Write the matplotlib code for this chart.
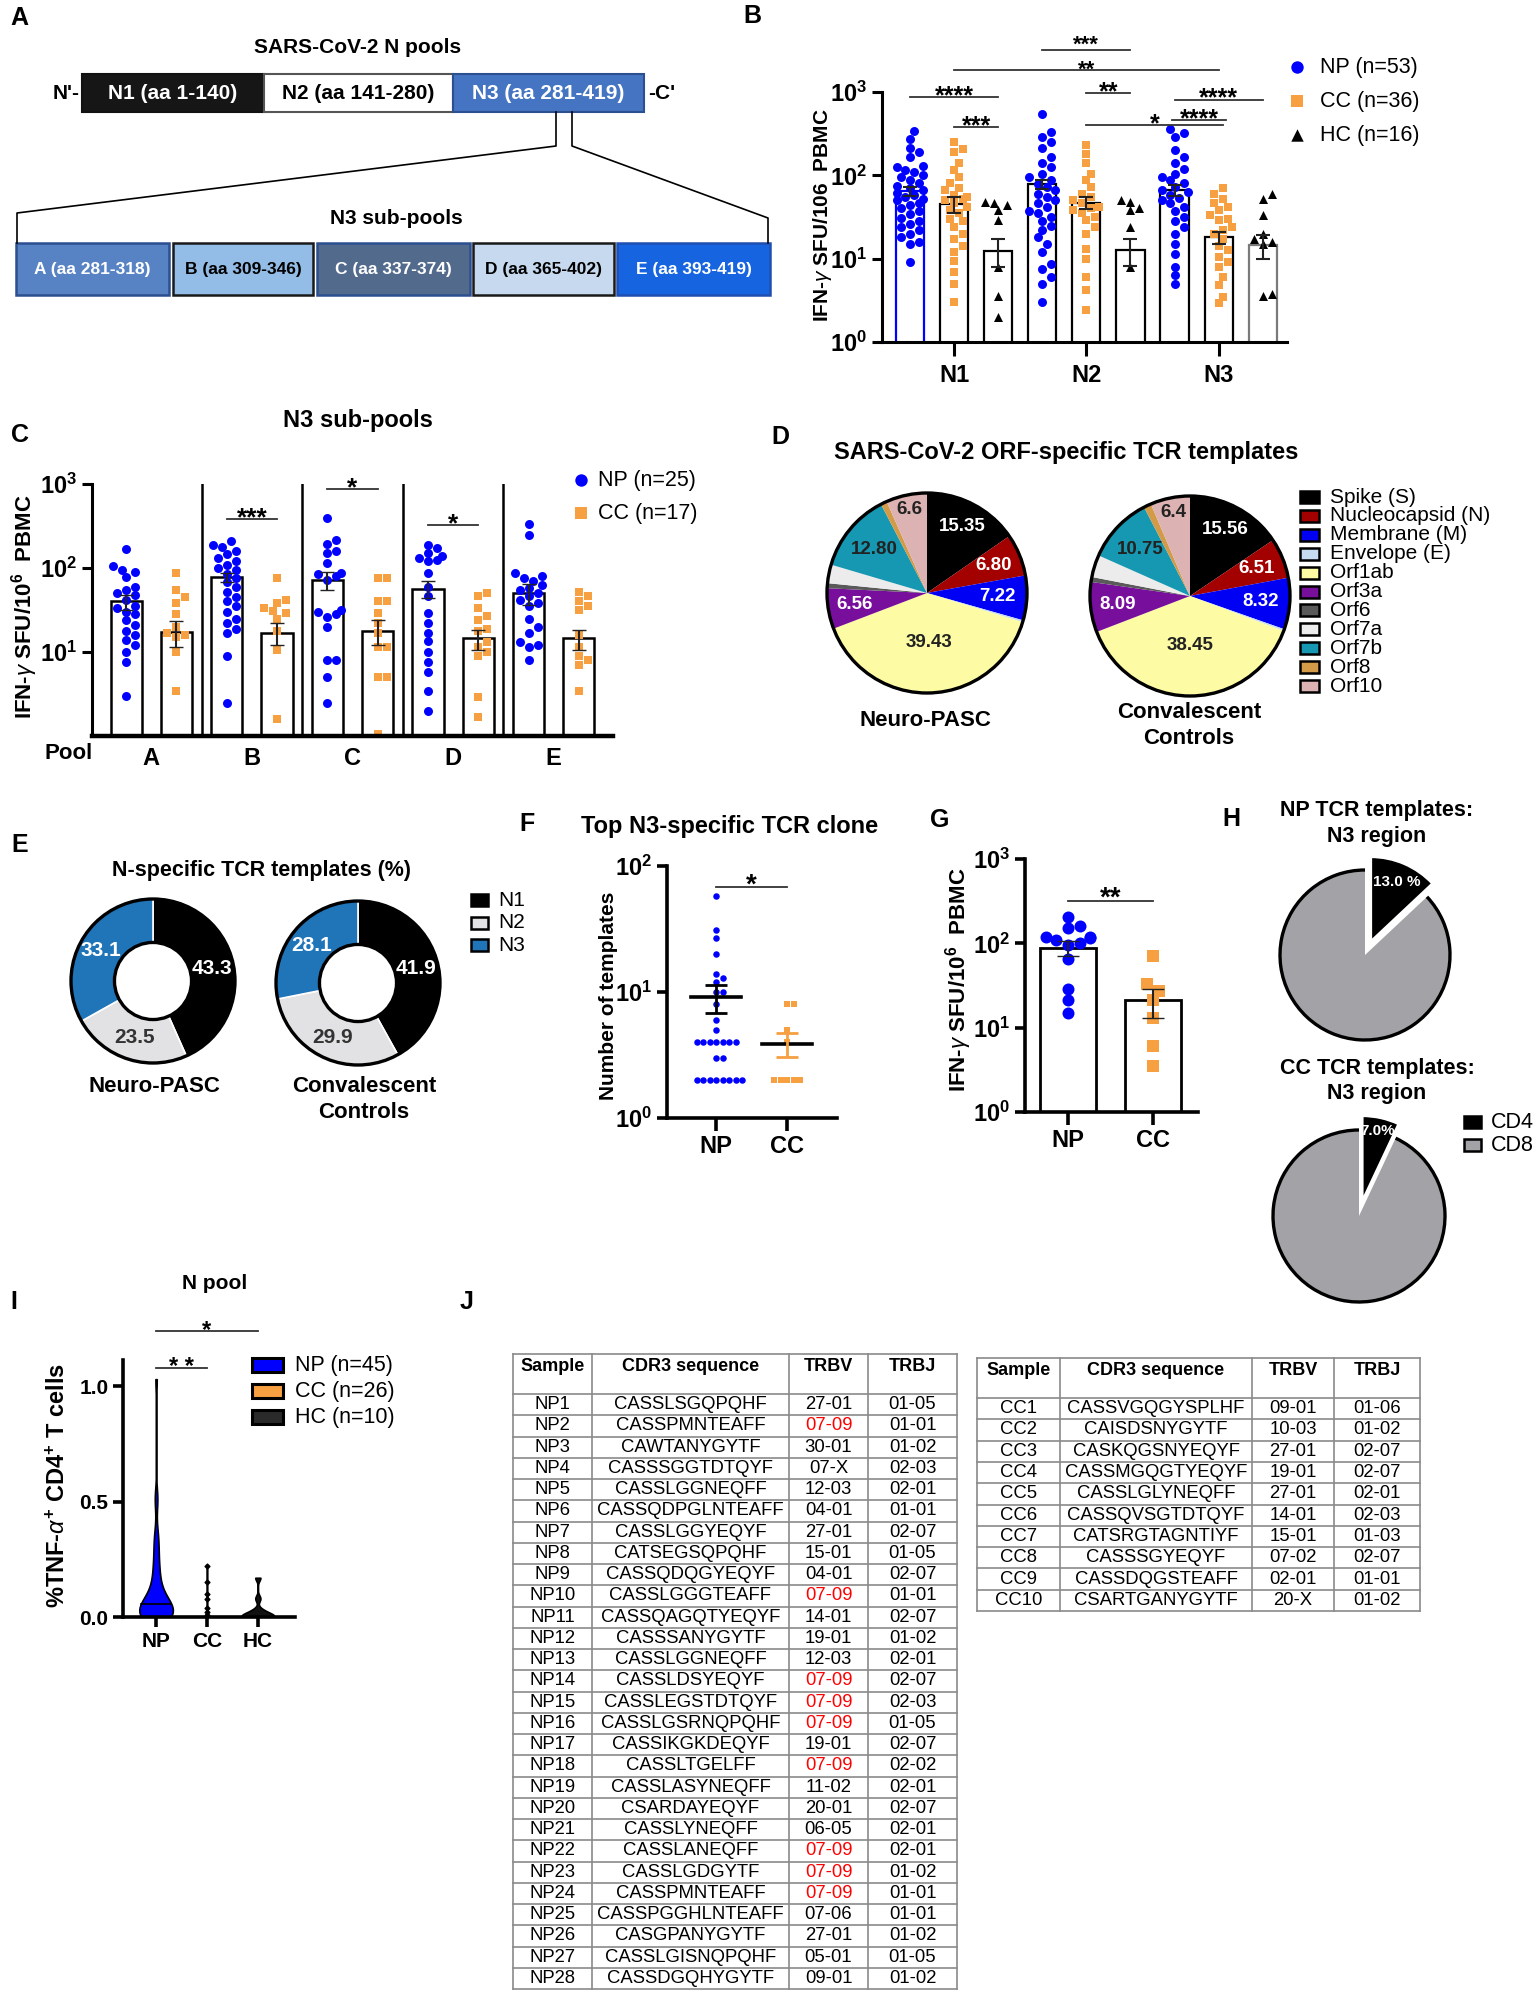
import numpy as np
import matplotlib
matplotlib.use('Agg')
import matplotlib.pyplot as plt
from matplotlib.patches import Rectangle, Circle, Arc
from matplotlib.ticker import NullLocator

W, H = 1536, 1992
NARROW = ['Liberation Sans', 'DejaVu Sans']
SANS = ['Liberation Sans', 'DejaVu Sans']
plt.rcParams['font.family'] = SANS
plt.rcParams['mathtext.fontset'] = 'custom'
plt.rcParams['mathtext.rm'] = 'Liberation Sans:bold'
plt.rcParams['mathtext.bf'] = 'Liberation Sans:bold'
plt.rcParams['mathtext.it'] = 'Liberation Sans:italic'

BLUE = '#0000ff'
ORANGE = '#f7a041'

# ---- A: N pools diagram
pool_names = ['N1 (aa 1-140)', 'N2 (aa 141-280)', 'N3 (aa 281-419)']
pool_colors = ['#161616', '#ffffff', '#4575c2']
sub_names = ['A (aa 281-318)', 'B (aa 309-346)', 'C (aa 337-374)', 'D (aa 365-402)', 'E (aa 393-419)']
sub_colors = ['#5783c4', '#93bde6', '#526a8c', '#c6d9ee', '#1764e0']

# ---- B: IFN-g SFU per N pool (NP, CC, HC for N1, N2, N3)
b_groups = ['N1', 'N2', 'N3']
b_np = [
    [340, 275, 210, 190, 165, 130, 125, 115, 110, 100, 95, 88, 82, 75, 70, 66, 62, 58, 55, 52,
     50, 47, 44, 40, 37, 34, 31, 28, 26, 24, 22, 20, 18, 16, 15, 9],
    [550, 330, 290, 250, 210, 165, 140, 125, 105, 95, 87, 79, 72, 66, 60, 55, 50, 46, 42, 37,
     35, 32, 28, 25, 22, 18, 15, 12, 8.7, 7.6, 6, 5, 3],
    [360, 320, 290, 200, 165, 140, 120, 105, 95, 87, 80, 72, 66, 63, 58, 54, 50, 46, 42, 37,
     32, 28, 24, 20, 15, 11.5, 8, 6.3, 5],
]
b_cc = [
    [250, 205, 190, 140, 115, 95, 80, 70, 66, 58, 55, 52, 50, 46, 42, 38, 35, 30, 28, 24,
     20, 17, 14, 12, 9.5, 7, 5, 3],
    [230, 180, 140, 105, 87, 72, 60, 55, 50, 46, 42, 40, 38, 35, 32, 29, 24, 20, 13, 10, 6, 4.2, 2.4],
    [70, 60, 52, 46, 42, 38, 33, 30, 29, 24, 22, 20, 17, 14, 12.6, 10.5, 9, 8, 6, 4.8, 3.5, 2.9],
]
b_hc = [
    [48, 44, 47, 38, 29, 8, 3.6, 2],
    [50, 48, 40, 38, 24, 8],
    [60, 52, 33, 20, 17, 16, 15, 3.8, 3.6],
]
b_means = [65, 45, 12.5, 78, 47, 12.6, 67, 18, 14.5]
b_sem = [8, 10, 4.5, 10, 8, 4.5, 10, 3, 4.5]
b_legend = ['NP (n=53)', 'CC (n=36)', 'HC (n=16)']

# ---- C: N3 sub-pools (NP, CC)
c_pools = ['A', 'B', 'C', 'D', 'E']
c_np = [
    [170, 105, 95, 90, 78, 60, 55, 50, 48, 42, 35, 33, 30, 28, 24, 21, 18, 16, 14, 12, 10, 7.5, 3],
    [210, 190, 180, 160, 145, 130, 120, 110, 100, 95, 85, 75, 68, 60, 52, 45, 40, 35, 30, 25,
     22, 19, 17, 9, 2.5],
    [390, 215, 195, 160, 150, 115, 87, 85, 80, 72, 32, 30, 28, 26, 20, 8, 8, 5, 2.5],
    [190, 175, 150, 140, 130, 125, 120, 87, 60, 46, 29, 22, 17, 13.5, 10, 7.5, 5.8, 3.4, 2],
    [330, 250, 87, 80, 75, 70, 62, 58, 55, 50, 46, 42, 38, 35, 25, 20, 17, 13, 12, 11.5, 8],
]
c_cc = [
    [87, 55, 45, 38, 28, 20, 17, 16, 15, 10, 3.4],
    [76, 42, 38, 33, 31, 29, 25, 18, 10.5, 1.6],
    [76, 76, 40, 40, 29, 22, 17, 11.5, 11.5, 5, 5, 1.05],
    [50, 46, 33, 27, 24, 19, 18, 13, 11.5, 10, 9, 2.9, 1.7],
    [52, 46, 40, 35, 32, 16, 11.5, 9, 8, 7, 3.4],
]
c_np_mean = [40, 78, 72, 57, 50]
c_np_sem = [8, 10, 18, 13, 14]
c_cc_mean = [17.5, 17, 18, 14.5, 14.5]
c_cc_sem = [6, 5, 6, 4, 4]
c_legend = ['NP (n=25)', 'CC (n=17)']

# ---- D: ORF-specific TCR templates (%)
orf_names = ['Spike (S)', 'Nucleocapsid (N)', 'Membrane (M)', 'Envelope (E)', 'Orf1ab', 'Orf3a',
             'Orf6', 'Orf7a', 'Orf7b', 'Orf8', 'Orf10']
orf_colors = ['#000000', '#a30000', '#0000f5', '#c6dcf2', '#fdfca4', '#780e9c', '#5a5a5a',
              '#ececec', '#1698b2', '#d39a48', '#dcb2b2']
orf_np = [15.35, 6.80, 7.22, 0.3, 39.43, 6.56, 0.8, 3.0, 12.80, 1.0, 6.6]
orf_cc = [15.56, 6.51, 8.32, 0.3, 38.45, 8.09, 0.8, 3.6, 10.75, 1.2, 6.4]
orf_np_labels = ['15.35', '6.80', '7.22', '', '39.43', '6.56', '', '', '12.80', '', '6.6']
orf_cc_labels = ['15.56', '6.51', '8.32', '', '38.45', '8.09', '', '', '10.75', '', '6.4']

# ---- E: N-specific TCR templates (%)
n_names = ['N1', 'N2', 'N3']
n_colors = ['#000000', '#e2e2e4', '#2074b8']
n_np = [43.3, 23.5, 33.1]
n_cc = [41.9, 29.9, 28.1]

# ---- F: top N3-specific clone, number of templates
f_np = [58, 31, 27, 20, 14, 13, 12, 10, 10, 8, 6, 5, 4, 4, 4, 4, 4, 4, 4, 3, 3,
        2, 2, 2, 2, 2, 2, 2, 2]
f_cc = [8, 8, 5, 4, 2, 2, 2, 2, 2]

# ---- G: IFN-g SFU, N3 pool
g_np = [205, 160, 150, 120, 118, 115, 110, 100, 95, 65, 29, 21, 15]
g_cc = [70, 33, 27, 21, 13, 6, 3.5]
g_means = [88, 21]
g_sem = [18, 8]

# ---- H: CD4 / CD8 share
h_np = [13.0, 87.0]
h_cc = [7.0, 93.0]
h_labels_np = ['13.0 %', '']
h_labels_cc = ['7.0%', '']

# ---- I: %TNF-a+ CD4+ T cells
i_np = [0.0, 0.0, 0.0, 0.0, 0.0, 0.0, 0.0, 0.0, 0.005, 0.01, 0.01, 0.01, 0.015, 0.02, 0.02,
        0.025, 0.03, 0.03, 0.035, 0.04, 0.045, 0.05, 0.055, 0.06, 0.06, 0.065, 0.07, 0.08, 0.09,
        0.10, 0.11, 0.12, 0.14, 0.16, 0.18, 0.20, 0.22, 0.25, 0.28, 0.31, 0.34, 0.37, 0.50, 0.52, 1.03]
i_cc = [0.0, 0.0, 0.0, 0.0, 0.0, 0.0, 0.0, 0.0, 0.0, 0.0, 0.0, 0.0, 0.0, 0.0, 0.0, 0.0, 0.0,
        0.0, 0.0, 0.01, 0.02, 0.04, 0.08, 0.10, 0.15, 0.22]
i_hc = [0.0, 0.0, 0.0, 0.0, 0.005, 0.01, 0.02, 0.03, 0.08, 0.17]
i_legend = ['NP (n=45)', 'CC (n=26)', 'HC (n=10)']

# ---- J: tables
tab_head = ['Sample', 'CDR3 sequence', 'TRBV', 'TRBJ']
np_samples = ['NP%d' % k for k in range(1, 29)]
np_cdr3 = ['CASSLSGQPQHF', 'CASSPMNTEAFF', 'CAWTANYGYTF', 'CASSSGGTDTQYF', 'CASSLGGNEQFF',
           'CASSQDPGLNTEAFF', 'CASSLGGYEQYF', 'CATSEGSQPQHF', 'CASSQDQGYEQYF', 'CASSLGGGTEAFF',
           'CASSQAGQTYEQYF', 'CASSSANYGYTF', 'CASSLGGNEQFF', 'CASSLDSYEQYF', 'CASSLEGSTDTQYF',
           'CASSLGSRNQPQHF', 'CASSIKGKDEQYF', 'CASSLTGELFF', 'CASSLASYNEQFF', 'CSARDAYEQYF',
           'CASSLYNEQFF', 'CASSLANEQFF', 'CASSLGDGYTF', 'CASSPMNTEAFF', 'CASSPGGHLNTEAFF',
           'CASGPANYGYTF', 'CASSLGISNQPQHF', 'CASSDGQHYGYTF']
np_trbv = ['27-01', '07-09', '30-01', '07-X', '12-03', '04-01', '27-01', '15-01', '04-01', '07-09',
           '14-01', '19-01', '12-03', '07-09', '07-09', '07-09', '19-01', '07-09', '11-02', '20-01',
           '06-05', '07-09', '07-09', '07-09', '07-06', '27-01', '05-01', '09-01']
np_trbj = ['01-05', '01-01', '01-02', '02-03', '02-01', '01-01', '02-07', '01-05', '02-07', '01-01',
           '02-07', '01-02', '02-01', '02-07', '02-03', '01-05', '02-07', '02-02', '02-01', '02-07',
           '02-01', '02-01', '01-02', '01-01', '01-01', '01-02', '01-05', '01-02']
cc_samples = ['CC%d' % k for k in range(1, 11)]
cc_cdr3 = ['CASSVGQGYSPLHF', 'CAISDSNYGYTF', 'CASKQGSNYEQYF', 'CASSMGQGTYEQYF', 'CASSLGLYNEQFF',
           'CASSQVSGTDTQYF', 'CATSRGTAGNTIYF', 'CASSSGYEQYF', 'CASSDQGSTEAFF', 'CSARTGANYGYTF']
cc_trbv = ['09-01', '10-03', '27-01', '19-01', '27-01', '14-01', '15-01', '07-02', '02-01', '20-X']
cc_trbj = ['01-06', '01-02', '02-07', '02-07', '02-01', '02-03', '01-03', '02-07', '01-01', '01-02']


fig = plt.figure(figsize=(W / 100, H / 100), dpi=100)


def box(x0, y0, x1, y1):
    ax = fig.add_axes([x0 / W, 1 - y1 / H, (x1 - x0) / W, (y1 - y0) / H])
    ax.set_facecolor('none')
    return ax


ov = fig.add_axes([0, 0, 1, 1])
ov.set_xlim(0, W)
ov.set_ylim(H, 0)
ov.axis('off')
ov.set_zorder(10)


def T(x, y, s, size=14, weight='bold', family=NARROW, color='black', ha='center', va='center', **kw):
    ov.text(x, y, s, fontsize=size, fontweight=weight, family=family, color=color, ha=ha, va=va, **kw)


def style(ax, lw=2.2, fs=16):
    for s in ['top', 'right']:
        ax.spines[s].set_visible(False)
    for s in ['left', 'bottom']:
        ax.spines[s].set_linewidth(lw)
    ax.tick_params(width=lw, length=7, labelsize=fs)
    for lab in ax.get_xticklabels() + ax.get_yticklabels():
        lab.set_family(NARROW)
        lab.set_fontweight('bold')


def log_y(ax, top, skip0=False):
    ax.set_yscale('log')
    ax.set_ylim(1, top)
    n = int(round(np.log10(top)))
    ks = list(range(1 if skip0 else 0, n + 1))
    ax.set_yticks([10.0 ** k for k in ks])
    ax.set_yticklabels([r'$10^{%d}$' % k for k in ks])
    ax.yaxis.set_minor_locator(NullLocator())


def swarm(ax, x0, vals, d, maxw):
    vals = np.asarray(vals, float)
    pts = ax.transData.transform(np.column_stack([np.full(len(vals), x0), vals]))
    cx = pts[0, 0]
    xs = np.zeros(len(vals))
    placed = []
    for i in np.argsort(pts[:, 1]):
        y = pts[i, 1]
        pos = cx
        for k in range(0, 60):
            cands = [cx] if k == 0 else [cx + k * d * 0.5, cx - k * d * 0.5]
            hit = None
            for c in cands:
                if all((c - px) ** 2 + (y - py) ** 2 >= (0.9 * d) ** 2 for px, py in placed):
                    hit = c
                    break
            if hit is not None:
                pos = hit
                break
        pos = float(np.clip(pos, cx - maxw, cx + maxw))
        placed.append((pos, y))
        xs[i] = pos
    back = ax.transData.inverted().transform(np.column_stack([xs, pts[:, 1]]))
    return back[:, 0]


def sig(ax, x1, x2, y, label, fs=18, dy=-8):
    ax.plot([x1, x2], [y, y], color='#333333', lw=1.3, clip_on=False)
    ax.annotate(label, xy=((x1 + x2) / 2, y), xytext=(0, dy), textcoords='offset points',
                ha='center', va='bottom', fontsize=fs, fontweight='bold', annotation_clip=False)


# ======================= A
T(10, 18, 'A', size=18, family=SANS, ha='left')
T(358, 47, 'SARS-CoV-2 N pools', size=15)
pool_edges = [82, 264, 453, 644]
pool_ec = ['#111111', '#555555', '#2c4f90']
pool_tc = ['white', 'black', 'white']
for k, name in enumerate(pool_names):
    ov.add_patch(Rectangle((pool_edges[k], 74), pool_edges[k + 1] - pool_edges[k], 38,
                           fc=pool_colors[k], ec=pool_ec[k], lw=1.5))
    T((pool_edges[k] + pool_edges[k + 1]) / 2, 93, name, size=15, color=pool_tc[k])
T(80, 93, "N'-", size=15, ha='right')
T(648, 93, "-C'", size=15, ha='left')
ov.plot([556, 556, 17, 17], [112, 146, 213, 243], color='black', lw=1.2)
ov.plot([572, 572, 768, 768], [112, 146, 218, 243], color='black', lw=1.2)
T(396, 218, 'N3 sub-pools', size=15)
sub_x = [(16, 169), (173, 313), (317, 470), (473, 614), (617, 770)]
sub_ec = ['#2c4f90', '#1a1a1a', '#2c4f90', '#1a1a1a', '#1f4fb0']
sub_tc = ['white', 'black', 'white', 'black', 'white']
for k, name in enumerate(sub_names):
    x0, x1 = sub_x[k]
    ov.add_patch(Rectangle((x0, 243), x1 - x0, 52, fc=sub_colors[k], ec=sub_ec[k], lw=1.8))
    T((x0 + x1) / 2, 269, name, size=12.5, color=sub_tc[k])

# ======================= B
T(752, 16, 'B', size=18, family=SANS)
axb = box(882, 92, 1287, 342)
style(axb)
log_y(axb, 1000)
axb.set_xlim(-0.635, 8.55)
bx = np.arange(9)
b_ec = [BLUE, 'black', 'black', 'black', 'black', 'black', 'black', 'black', '#7a7a7a']
axb.bar(bx, b_means, width=0.64, color='white', edgecolor=b_ec, lw=1.6, zorder=1)
for g in range(3):
    for j, (vals, mk, col, sz) in enumerate([(b_np[g], 'o', BLUE, 9), (b_cc[g], 's', ORANGE, 9),
                                             (b_hc[g], '^', 'black', 9)]):
        xi = 3 * g + j
        xs = swarm(axb, xi, vals, sz, 13)
        axb.scatter(xs, vals, marker=mk, s=(sz / 1.39) ** 2, color=col, lw=0, zorder=2, clip_on=False)
axb.errorbar(bx, b_means, yerr=b_sem, fmt='none', ecolor='#222222', elinewidth=1.5, capsize=5,
             capthick=1.5, zorder=3)
axb.set_xticks([1, 4, 7])
axb.set_xticklabels(b_groups)
style(axb, fs=17)
axb.tick_params(axis='x', length=10, pad=6)
sig(axb, 0, 2, 870, '****')
sig(axb, 1, 2, 380, '***')
sig(axb, 3, 5, 3160, '***', fs=16, dy=-4)
sig(axb, 1, 7, 1860, '**', fs=16, dy=-8)
sig(axb, 4, 5, 980, '**')
sig(axb, 6, 8, 810, '****')
sig(axb, 4, 7.1, 400, '*')
sig(axb, 5.95, 7.17, 465, '****')
T(822, 215, r'IFN-$\gamma$ SFU/106  PBMC', size=15, family=SANS, rotation=90)
for k, (mk, col) in enumerate([('o', BLUE), ('s', ORANGE), ('^', 'black')]):
    ov.scatter([1297], [67 + 34 * k], marker=mk, s=80, color=col, lw=0)
    T(1320, 67 + 34 * k, b_legend[k], size=15.5, weight='normal', ha='left')

# ======================= C
T(11, 435, 'C', size=18, family=SANS, ha='left')
T(358, 420, 'N3 sub-pools', size=17)
axc = box(92, 484, 613, 736)
style(axc)
log_y(axc, 1000, skip0=True)
axc.set_xlim(-0.68, 9.68)
cx_np = np.arange(5) * 2
cx_cc = cx_np + 1
axc.bar(cx_np, c_np_mean, width=0.62, color='white', edgecolor='black', lw=1.8, zorder=1)
axc.bar(cx_cc, c_cc_mean, width=0.62, color='white', edgecolor='black', lw=1.8, zorder=1)
for k in range(5):
    xs = swarm(axc, cx_np[k], c_np[k], 9, 14)
    axc.scatter(xs, c_np[k], marker='o', s=(9 / 1.39) ** 2, color=BLUE, lw=0, zorder=2)
    xs = swarm(axc, cx_cc[k], c_cc[k], 9, 14)
    axc.scatter(xs, c_cc[k], marker='s', s=(9 / 1.39) ** 2, color=ORANGE, lw=0, zorder=2, clip_on=False)
axc.errorbar(cx_np, c_np_mean, yerr=c_np_sem, fmt='none', ecolor='#222222', elinewidth=1.5, capsize=5, zorder=3)
axc.errorbar(cx_cc, c_cc_mean, yerr=c_cc_sem, fmt='none', ecolor='#222222', elinewidth=1.5, capsize=5, zorder=3)
for xv in [1.5, 3.5, 5.5, 7.5]:
    axc.plot([xv, xv], [1, 1000], color='black', lw=1.8, zorder=1)
axc.set_xticks(cx_np + 0.5)
axc.set_xticklabels(c_pools)
style(axc, fs=17)
axc.spines['bottom'].set_linewidth(3.2)
axc.tick_params(axis='x', length=0, pad=8)
sig(axc, 2, 3, 380, '***', fs=19)
sig(axc, 4, 5, 870, '*', fs=19)
sig(axc, 6, 7, 325, '*', fs=19)
T(69, 753, 'Pool', size=16)
T(25, 607, r'IFN-$\gamma$ SFU/10$^{6}$  PBMC', size=16, family=SANS, rotation=90)
for k, (mk, col) in enumerate([('o', BLUE), ('s', ORANGE)]):
    ov.scatter([581], [480 + 33 * k], marker=mk, s=80, color=col, lw=0)
    T(598, 480 + 33 * k, c_legend[k], size=15.5, weight='normal', ha='left')


# ======================= pies
def pie_ax(cx, cy, r, pad=1.35):
    ax = box(cx - r * pad, cy - r * pad, cx + r * pad, cy + r * pad)
    ax.axis('off')
    return ax, pad


def fix(ax, pad):
    ax.set_xlim(-pad, pad)
    ax.set_ylim(-pad, pad)
    ax.set_aspect('equal')


T(780, 437, 'D', size=18, family=SANS)
T(1066, 452, 'SARS-CoV-2 ORF-specific TCR templates', size=17)
label_r = [0.75, 0.72, 0.71, 0.7, 0.5, 0.73, 0.7, 0.7, 0.68, 0.7, 0.85]
label_c = ['white', 'white', 'white', 'black', '#222222', 'white', 'white', 'black', '#222222',
           'black', '#222222']
for (cx, cy), vals, labs in [((927, 593), orf_np, orf_np_labels), ((1190, 596), orf_cc, orf_cc_labels)]:
    ax, pad = pie_ax(cx, cy, 100)
    wedges, _ = ax.pie(vals, colors=orf_colors, startangle=90, counterclock=False, radius=1,
                       wedgeprops=dict(linewidth=0))
    ax.add_patch(Circle((0, 0), 1, fill=False, ec='black', lw=2.4))
    for k, w in enumerate(wedges):
        if labs[k]:
            th = np.deg2rad((w.theta1 + w.theta2) / 2)
            ax.text(label_r[k] * np.cos(th), label_r[k] * np.sin(th), labs[k], ha='center', va='center',
                    fontsize=13.5, fontweight='bold', family=NARROW, color=label_c[k])
    fix(ax, pad)
T(925, 720, 'Neuro-PASC', size=16)
T(1189, 712, 'Convalescent', size=16)
T(1189, 738, 'Controls', size=16)
for k, name in enumerate(orf_names):
    yy = 497 + 18.9 * k
    ov.add_patch(Rectangle((1300, yy - 6), 19, 12, fc=orf_colors[k], ec='black', lw=1.8))
    T(1330, yy, name, size=15, weight='normal', ha='left')

# ======================= E
T(11, 845, 'E', size=18, family=SANS, ha='left')
T(262, 870, 'N-specific TCR templates (%)', size=15.5)
n_lc = ['white', '#333333', 'white']
for (cx, cy), vals in [((153, 981), n_np), ((358, 983), n_cc)]:
    ax, pad = pie_ax(cx, cy, 82)
    wedges, _ = ax.pie(vals, colors=n_colors, startangle=90, counterclock=False, radius=1,
                       wedgeprops=dict(width=0.53, edgecolor='white', linewidth=1.2))
    ax.add_patch(Circle((0, 0), 1, fill=False, ec='black', lw=2.4))
    ax.add_patch(Circle((0, 0), 0.47, fill=False, ec='black', lw=2.4))
    for k, w in enumerate(wedges):
        th = np.deg2rad((w.theta1 + w.theta2) / 2)
        ax.text(0.73 * np.cos(th), 0.73 * np.sin(th), '%.1f' % vals[k], ha='center', va='center',
                fontsize=15, fontweight='bold', family=NARROW, color=n_lc[k])
    fix(ax, pad)
T(154, 1086, 'Neuro-PASC', size=16)
T(364, 1086, 'Convalescent', size=16)
T(364, 1112, 'Controls', size=16)
for k, name in enumerate(n_names):
    yy = 900 + 22.5 * k
    ov.add_patch(Rectangle((471, yy - 6), 17, 12, fc=n_colors[k], ec='black', lw=1.8))
    T(498, yy, name, size=15, weight='normal', ha='left')

# ======================= F
T(527, 824, 'F', size=18, family=SANS)
T(730, 826, 'Top N3-specific TCR clone', size=17)
axf = box(667, 866, 837, 1118)
axf.set_xlim(-0.69, 1.70)
log_y(axf, 100)
for xi, vals, mk, col in [(0, f_np, 'o', BLUE), (1, f_cc, 's', ORANGE)]:
    xs = swarm(axf, xi, vals, 6.5, 40)
    axf.scatter(xs, vals, marker=mk, s=(6.5 / 1.39) ** 2, color=col, lw=0, zorder=2)
    m = np.mean(vals)
    se = np.std(vals, ddof=1) / np.sqrt(len(vals))
    ecol = 'black' if xi == 0 else ORANGE
    axf.plot([xi - 0.35, xi + 0.35], [m, m], color='black', lw=2.6, zorder=3)
    axf.errorbar([xi], [m], yerr=[se], fmt='none', ecolor=ecol, elinewidth=2, capsize=8, capthick=2, zorder=3)
axf.set_xticks([0, 1])
axf.set_xticklabels(['NP', 'CC'])
style(axf, lw=2.6, fs=17)
axf.tick_params(axis='x', length=9)
sig(axf, 0, 1, 68, '*', fs=20)
T(608, 996, 'Number of templates', size=15, family=SANS, rotation=90)

# ======================= G
T(940, 820, 'G', size=18, family=SANS)
axg = box(1025, 859, 1198, 1112)
axg.set_xlim(-0.51, 1.53)
log_y(axg, 1000)
axg.bar([0, 1], g_means, width=0.66, color='white', edgecolor='black', lw=2, zorder=1)
for xi, vals, mk, col in [(0, g_np, 'o', BLUE), (1, g_cc, 's', ORANGE)]:
    xs = swarm(axg, xi, vals, 12, 22)
    axg.scatter(xs, vals, marker=mk, s=(12 / 1.39) ** 2, color=col, lw=0, zorder=2)
axg.errorbar([0, 1], g_means, yerr=g_sem, fmt='none', ecolor='#222222', elinewidth=1.5, capsize=8, zorder=3)
axg.set_xticks([0, 1])
axg.set_xticklabels(['NP', 'CC'])
style(axg, lw=2.6, fs=17)
axg.tick_params(axis='x', length=9)
sig(axg, 0, 1, 320, '**', fs=20)
T(959, 980, r'IFN-$\gamma$ SFU/10$^{6}$  PBMC', size=16, family=SANS, rotation=90)

# ======================= H
T(1231, 819, 'H', size=18, family=SANS)
T(1377, 810, 'NP TCR templates:', size=15.5)
T(1377, 836, 'N3 region', size=15.5)
T(1377, 1068, 'CC TCR templates:', size=15.5)
T(1377, 1093, 'N3 region', size=15.5)
h_colors = ['#000000', '#a3a3a7']
for (cx, cy, r), vals, labs, lf in [((1365, 955, 85), h_np, h_labels_np, 0.76),
                                    ((1359, 1216, 86), h_cc, h_labels_cc, 0.84)]:
    ax, pad = pie_ax(cx, cy, r)
    wedges, _ = ax.pie(vals, colors=h_colors, startangle=90, counterclock=False, radius=1,
                       explode=[0.17, 0], wedgeprops=dict(linewidth=0))
    wedges[0].set_edgecolor('white')
    wedges[0].set_linewidth(2)
    g = wedges[1]
    ax.add_patch(Arc((0, 0), 2, 2, theta1=g.theta1, theta2=g.theta2, color='black', lw=2.4))
    th = np.deg2rad((wedges[0].theta1 + wedges[0].theta2) / 2)
    ax.text((0.17 + lf) * np.cos(th), (0.17 + lf) * np.sin(th), labs[0], ha='center', va='center',
            fontsize=11, fontweight='bold', family=NARROW, color='white')
    fix(ax, pad)
for k, name in enumerate(['CD4', 'CD8']):
    yy = 1122 + 23 * k
    ov.add_patch(Rectangle((1464, yy - 6), 17, 12, fc=h_colors[k], ec='black', lw=1.8))
    T(1491, yy, name, size=15.5, weight='normal', family=SANS, ha='left')

# ======================= I
T(10, 1302, 'I', size=18, family=SANS, ha='left')
T(215, 1283, 'N pool', size=15, family=SANS)
axi = box(123, 1360, 295, 1617)
axi.set_xlim(-0.65, 2.73)
axi.set_ylim(0, 1.113)
vp = axi.violinplot([i_np, i_cc, i_hc], positions=[0, 1, 2], widths=[0.66, 0.05, 0.64],
                    showextrema=False, bw_method=0.25)
for body, col in zip(vp['bodies'], [BLUE, ORANGE, '#111111']):
    body.set_facecolor(col)
    body.set_edgecolor('black')
    body.set_linewidth(1.2)
    body.set_alpha(1)
v = vp['bodies'][0].get_paths()[0].vertices
right = v[v[:, 0] > 0]
med = np.median(i_np)
hw = np.interp(med, right[np.argsort(right[:, 1]), 1], right[np.argsort(right[:, 1]), 0])
axi.plot([-hw, hw], [med, med], color='black', lw=1.2, zorder=3)
nz = [val for val in i_cc if val > 0]
axi.scatter([1] * len(nz), nz, marker='D', s=6, color='black', zorder=3)
axi.set_xticks([0, 1, 2])
axi.set_xticklabels(['NP', 'CC', 'HC'])
axi.set_yticks([0, 0.5, 1.0])
axi.set_yticklabels(['0.0', '0.5', '1.0'])
style(axi, lw=2.6, fs=15)
sig(axi, 0, 1, 1.08, '* *', fs=17)
sig(axi, 0, 2, 1.24, '*', fs=17)
T(58, 1485, r'%TNF-$\alpha^{+}$ CD4$^{+}$ T cells', size=17, family=SANS, rotation=90)
for k, col in enumerate([BLUE, ORANGE, '#2a2a2a']):
    yy = 1365 + 26 * k
    ov.add_patch(Rectangle((252, yy - 7), 31, 14, fc=col, ec='black', lw=2.2))
    T(295, yy, i_legend[k], size=15.5, weight='normal', family=SANS, ha='left')

# ======================= J tables
T(467, 1302, 'J', size=18, family=SANS)


def table(cols_x, top, head_h, row_h, rows):
    n = len(rows[0])
    bottom = top + head_h + n * row_h
    gc = '#8a8a8a'
    for xv in cols_x:
        ov.plot([xv, xv], [top, bottom], color=gc, lw=1.2)
    ys = [top, top + head_h] + [top + head_h + (i + 1) * row_h for i in range(n)]
    for yv in ys:
        ov.plot([cols_x[0], cols_x[-1]], [yv, yv], color=gc, lw=1.2)
    for c, name in enumerate(tab_head):
        T((cols_x[c] + cols_x[c + 1]) / 2, top + 12, name, size=13, family=SANS)
    for c, col in enumerate(rows):
        for i, txt in enumerate(col):
            red = (c == 2 and txt == '07-09')
            T((cols_x[c] + cols_x[c + 1]) / 2, top + head_h + (i + 0.5) * row_h, txt, size=13.3,
              weight='normal', family=SANS, color='#ff0000' if red else 'black')


table([513, 592, 789, 868, 957], 1354, 40, (1989 - 1394) / 28, [np_samples, np_cdr3, np_trbv, np_trbj])
table([977, 1060, 1252, 1334, 1420], 1358, 40, (1611 - 1398) / 10, [cc_samples, cc_cdr3, cc_trbv, cc_trbj])

fig.savefig('out.png', dpi=100)
